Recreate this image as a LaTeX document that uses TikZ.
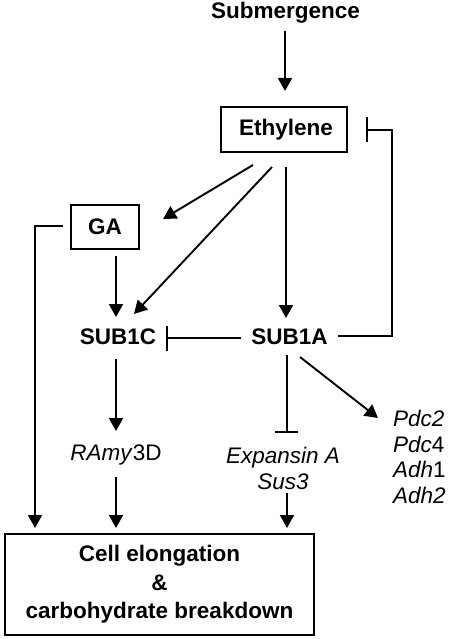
\documentclass[tikz,border=0pt]{standalone}
\usepackage{fontspec}
\setmainfont{Liberation Sans}
\usetikzlibrary{arrows.meta}
\begin{document}
\begin{tikzpicture}[x=1pt,y=-1pt,
  every node/.style={font=\fontsize{22.5}{27}\selectfont, inner sep=0pt},
  lbl/.style={font=\fontsize{22.5}{27}\selectfont\bfseries},
  boxed/.style={draw, line width=1.9pt, font=\fontsize{22.5}{27}\selectfont\bfseries},
  act/.style={line width=1.9pt, -{Triangle[length=13pt,width=14pt]}},
  inh/.style={line width=1.9pt, -{Bar[width=25pt,line width=1.9pt]}},
  ln/.style={line width=1.9pt}]
\useasboundingbox (0,0) rectangle (448,639);
\fill[white] (0,0) rectangle (448,639);

\node[lbl] (sub) at (285.5,13) {Submergence};
\node[boxed, minimum width=126pt, minimum height=45pt] (eth) at (284,129.5) {\hspace*{4pt}Ethylene};
\node[boxed, minimum width=68pt, minimum height=44pt] (ga) at (105,227) {GA};
\node[lbl] (s1c) at (118,337) {SUB1C};
\node[lbl] (s1a) at (289.5,337) {SUB1A};
\node (ramy) at (116,455) {\textit{RAmy}3D};
\node[align=center] (exp) at (283,468) {\textit{Expansin A}\\[-1pt]\textit{Sus3}};
\node[align=left, anchor=west] (pdc) at (393,457) {\textit{Pdc2}\\[-1.5pt]\textit{Pdc}4\\[-1.5pt]\textit{Adh}1\\[-1.5pt]\textit{Adh2}};
\node[boxed, minimum width=309pt, minimum height=101pt, align=center, font=\fontsize{22.5}{28.5}\selectfont\bfseries] (cell) at (159.5,584.5) {Cell elongation\\\&\\carbohydrate breakdown};

\coordinate (a1) at (285,31);
\draw[act] (a1) -- (285,91);
\coordinate (e1) at (253,165);
\draw[act] (e1) -- (163,219);
\coordinate (e2) at (272,167);
\draw[act] (e2) -- (134,314);
\coordinate (e3) at (286,167);
\draw[act] (e3) -- (286,318);
\coordinate (g1) at (116,256);
\draw[act] (g1) -- (116,317);
\coordinate (g2) at (63,226);
\draw[act] (g2) -- (35,226) -- (35,528);
\coordinate (c1) at (116,359);
\draw[act] (c1) -- (116,431);
\coordinate (r1) at (116,477);
\draw[act] (r1) -- (116,528);
\coordinate (sA) at (338,336);
\draw[inh] (sA) -- (392,336) -- (392,130) -- (366,130);
\coordinate (sB) at (241,338);
\draw[inh] (sB) -- (166,338);
\coordinate (sC) at (287,355);
\draw[ln] (sC) -- (287,432);
\draw[ln] (275,432) -- (298,432);
\coordinate (x1) at (287,493);
\draw[act] (x1) -- (287,528);
\coordinate (p1) at (300,357);
\draw[act] (p1) -- (378,418);
\end{tikzpicture}
\end{document}
